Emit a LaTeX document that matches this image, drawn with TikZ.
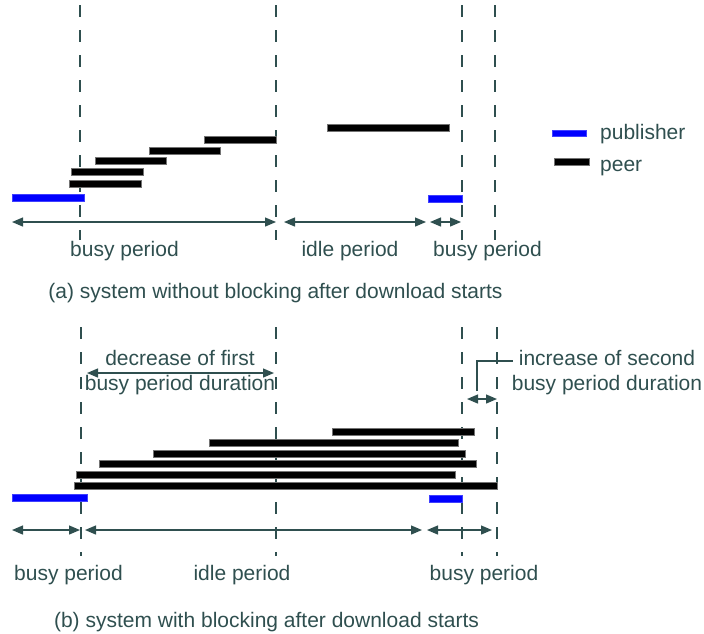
\documentclass[tikz,border=0pt]{standalone}
\usepackage{fontspec}
\setmainfont{Liberation Sans}
\usetikzlibrary{arrows.meta}
\definecolor{lc}{RGB}{47,79,79}
\definecolor{pub}{RGB}{0,0,255}
\begin{document}
\begin{tikzpicture}[x=1pt,y=-1pt,
  dashline/.style={lc,line width=1.4pt,dash pattern=on 12pt off 13pt},
  span/.style={lc,line width=1.3pt,{Triangle[length=11pt,width=9pt]}-{Triangle[length=11pt,width=9pt]}},
  leader/.style={lc,line width=1.3pt},
  lbl/.style={text=lc,font=\fontsize{21}{25}\selectfont,inner sep=0pt,anchor=base},
  peerbar/.style={fill=black,draw=black!55,line width=0.4pt},
  pubbar/.style={fill=pub,draw=pub!75,line width=0.4pt}]
\useasboundingbox (0,0) rectangle (704,633);

% ---------- panel (a) ----------
\coordinate (a1t) at (80,5);   \coordinate (a1b) at (80,240);
\coordinate (a2t) at (276,5);  \coordinate (a2b) at (276,240);
\coordinate (a3t) at (462,5);  \coordinate (a3b) at (462,240);
\coordinate (a4t) at (495,5);  \coordinate (a4b) at (495,240);
\draw[dashline] (a1t) -- (a1b);
\draw[dashline] (a2t) -- (a2b);
\draw[dashline] (a3t) -- (a3b);
\draw[dashline] (a4t) -- (a4b);

\path[pubbar] (12,194.5) rectangle (84,201.5);
\path[peerbar] (69,180.5) rectangle (141,187.5);
\path[peerbar] (71,168.5) rectangle (143,175.5);
\path[peerbar] (95,157.5) rectangle (166,164.5);
\path[peerbar] (149,147.5) rectangle (220,154.5);
\path[peerbar] (204,136.5) rectangle (276,143.5);
\path[peerbar] (327,124.5) rectangle (449,131.5);
\path[pubbar] (428,195) rectangle (462,202);

\coordinate (sa1) at (12,222);  \coordinate (ea1) at (276,222);
\coordinate (sa2) at (284,222); \coordinate (ea2) at (426,222);
\coordinate (sa3) at (430,222); \coordinate (ea3) at (461,222);
\draw[span] (sa1) -- (ea1);
\draw[span] (sa2) -- (ea2);
\draw[span] (sa3) -- (ea3);

\node[lbl] (ba1) at (124.5,256) {busy period};
\node[lbl] (ia1) at (350,256) {idle period};
\node[lbl] (ba2) at (487.5,256) {busy period};
\node[lbl] (capa) at (275.5,298) {(a) system without blocking after download starts};

% legend
\path[pubbar] (552,130) rectangle (586,136);
\path[peerbar] (554,158.5) rectangle (589,165.5);
\node[lbl,anchor=base west] (lpub) at (600,139) {publisher};
\node[lbl,anchor=base west] (lpeer) at (600,171) {peer};

% ---------- panel (b) ----------
\coordinate (b1t) at (81,327);  \coordinate (b1b) at (81,556);
\coordinate (b2t) at (276,327); \coordinate (b2b) at (276,556);
\coordinate (b3t) at (462,327); \coordinate (b3b) at (462,556);
\coordinate (b4t) at (497,327); \coordinate (b4b) at (497,556);
\draw[dashline] (b1t) -- (b1b);
\draw[dashline] (b2t) -- (b2b);
\draw[dashline] (b3t) -- (b3b);
\draw[dashline] (b4t) -- (b4b);

\path[peerbar] (332,428.5) rectangle (474,435.5);
\path[peerbar] (209,439.5) rectangle (458,446.5);
\path[peerbar] (153,450.5) rectangle (465,457.5);
\path[peerbar] (99,460.5) rectangle (476,467.5);
\path[peerbar] (76,471.5) rectangle (455,478.5);
\path[peerbar] (74,482.5) rectangle (497,489.5);
\path[pubbar] (12,494.5) rectangle (87,501.5);
\path[pubbar] (429,495.5) rectangle (462,502.5);

\coordinate (sb1) at (12,530);  \coordinate (eb1) at (80,530);
\coordinate (sb2) at (85,530);  \coordinate (eb2) at (422,530);
\coordinate (sb3) at (427,530); \coordinate (eb3) at (492,530);
\draw[span] (sb1) -- (eb1);
\draw[span] (sb2) -- (eb2);
\draw[span] (sb3) -- (eb3);

\node[lbl] (bb1) at (68.5,580) {busy period};
\node[lbl] (ib1) at (242,580) {idle period};
\node[lbl] (bb2) at (484,580) {busy period};
\node[lbl] (capb) at (266.5,627) {(b) system with blocking after download starts};

% decrease annotation
\coordinate (sd) at (87,373); \coordinate (ed) at (274,373);
\draw[span] (sd) -- (ed);
\node[lbl] (dec1) at (180,365) {decrease of first};
\node[lbl] (dec2) at (180,390) {busy period duration};

% increase annotation
\coordinate (si) at (467,399); \coordinate (ei) at (497,399);
\draw[span] (si) -- (ei);
\node[lbl] (inc1) at (607,365) {increase of second};
\node[lbl] (inc2) at (607,390) {busy period duration};
\coordinate (lk) at (477,391);
\coordinate (lh) at (513,361);
\draw[leader] (lk) |- (lh);
\end{tikzpicture}
\end{document}
